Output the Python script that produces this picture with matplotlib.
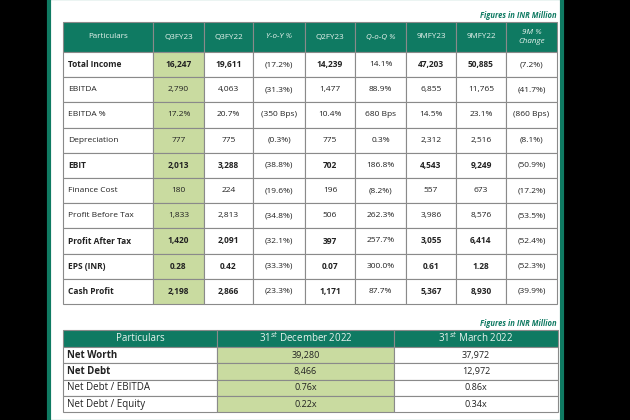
import matplotlib
matplotlib.use("Agg")
import matplotlib.pyplot as plt
from matplotlib.patches import Rectangle

columns = ["Particulars", "Q3FY23", "Q3FY22", "Y-o-Y %", "Q2FY23", "Q-o-Q %", "9MFY23", "9MFY22", "9M %\nChange"]
particulars = ["Total Income", "EBITDA", "EBITDA %", "Depreciation", "EBIT", "Finance Cost",
               "Profit Before Tax", "Profit After Tax", "EPS (INR)", "Cash Profit"]
q3fy23 = ["16,247", "2,790", "17.2%", "777", "2,013", "180", "1,833", "1,420", "0.28", "2,198"]
q3fy22 = ["19,611", "4,063", "20.7%", "775", "3,288", "224", "2,813", "2,091", "0.42", "2,866"]
yoy = ["(17.2%)", "(31.3%)", "(350 Bps)", "(0.3%)", "(38.8%)", "(19.6%)", "(34.8%)", "(32.1%)", "(33.3%)", "(23.3%)"]
q2fy23 = ["14,239", "1,477", "10.4%", "775", "702", "196", "506", "397", "0.07", "1,171"]
qoq = ["14.1%", "88.9%", "680 Bps", "0.3%", "186.8%", "(8.2%)", "262.3%", "257.7%", "300.0%", "87.7%"]
m9fy23 = ["47,203", "6,855", "14.5%", "2,312", "4,543", "557", "3,986", "3,055", "0.61", "5,367"]
m9fy22 = ["50,885", "11,765", "23.1%", "2,516", "9,249", "673", "8,576", "6,414", "1.28", "8,930"]
m9chg = ["(7.2%)", "(41.7%)", "(860 Bps)", "(8.1%)", "(50.9%)", "(17.2%)", "(53.5%)", "(52.4%)", "(52.3%)", "(39.9%)"]
bold_rows = ["Total Income", "EBIT", "Profit After Tax", "EPS (INR)", "Cash Profit"]

bs_columns = ["Particulars", "31$^{st}$ December 2022", "31$^{st}$ March 2022"]
bs_particulars = ["Net Worth", "Net Debt", "Net Debt / EBITDA", "Net Debt / Equity"]
bs_dec22 = ["39,280", "8,466", "0.76x", "0.22x"]
bs_mar22 = ["37,972", "12,972", "0.86x", "0.34x"]
bs_bold = ["Net Worth", "Net Debt"]

W, H = 630, 420
fig = plt.figure(figsize=(6.3, 4.2), dpi=100)
ax = fig.add_axes([0, 0, 1, 1])
ax.set_xlim(0, W); ax.set_ylim(H, 0); ax.axis("off")
fig.patch.set_facecolor("black")

TEAL = "#0f7a62"; HL = "#c9dba0"; GRID = "#8a8a8a"; TXT = "#222222"
FONT = "Open Sans"
ax.add_patch(Rectangle((49, -2), 513, 424, facecolor="white", edgecolor=TEAL, lw=3))

def rect(x, y, w, h, fc):
    ax.add_patch(Rectangle((x, y), w, h, facecolor=fc, edgecolor=GRID, lw=0.8))

xs = [63, 153, 204, 253, 305, 355, 406, 456, 506, 557]
ytop, hh, rh = 22, 30, 25.2
ax.text(557, 15, "Figures in INR Million", ha="right", va="center", fontsize=5.5, color=TEAL,
        style="italic", fontweight="bold", family=FONT)
for j, c in enumerate(columns):
    rect(xs[j], ytop, xs[j+1]-xs[j], hh, TEAL)
    it = "italic" if j in (3, 5, 8) else "normal"
    ax.text((xs[j]+xs[j+1])/2, ytop+hh/2, c, ha="center", va="center", color="#e8f3ee",
            fontsize=5.8, style=it, family=FONT, linespacing=1.3)
cols = [particulars, q3fy23, q3fy22, yoy, q2fy23, qoq, m9fy23, m9fy22, m9chg]
for i, p in enumerate(particulars):
    y = ytop + hh + i*rh
    b = p in bold_rows
    for j, col in enumerate(cols):
        rect(xs[j], y, xs[j+1]-xs[j], rh, HL if j == 1 else "white")
        fw = "bold" if (b and j in (0, 1, 2, 4, 6, 7)) else "normal"
        if j == 0:
            ax.text(xs[0]+5, y+rh/2, col[i], ha="left", va="center", fontsize=6, color=TXT,
                    fontweight=fw, family=FONT)
        else:
            ax.text((xs[j]+xs[j+1])/2, y+rh/2, col[i], ha="center", va="center", fontsize=6,
                    color=TXT, fontweight=fw, family=FONT)

bx = [63, 217, 394, 558]
by, bh, brh = 330, 17, 16.3
ax.text(557, 324, "Figures in INR Million", ha="right", va="center", fontsize=5.5, color=TEAL,
        style="italic", fontweight="bold", family=FONT)
for j, c in enumerate(bs_columns):
    rect(bx[j], by, bx[j+1]-bx[j], bh, TEAL)
    ax.text((bx[j]+bx[j+1])/2, by+bh/2, c, ha="center", va="center", color="#e8f3ee",
            fontsize=7, family=FONT)
bcols = [bs_particulars, bs_dec22, bs_mar22]
for i, p in enumerate(bs_particulars):
    y = by + bh + i*brh
    for j, col in enumerate(bcols):
        rect(bx[j], y, bx[j+1]-bx[j], brh, HL if j == 1 else "white")
        if j == 0:
            ax.text(bx[0]+4, y+brh/2, col[i], ha="left", va="center", fontsize=7, color=TXT,
                    fontweight="bold" if p in bs_bold else "normal", family=FONT)
        else:
            ax.text((bx[j]+bx[j+1])/2, y+brh/2, col[i], ha="center", va="center", fontsize=6.5,
                    color=TXT, family=FONT)

fig.savefig("out.png", dpi=100, facecolor="black")
